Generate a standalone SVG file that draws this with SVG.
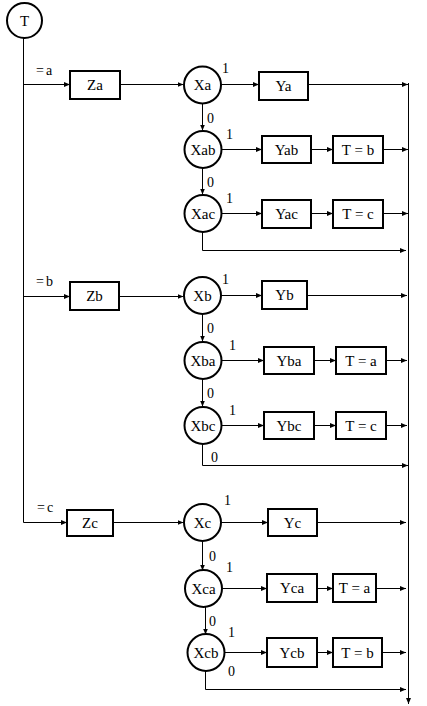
<svg xmlns="http://www.w3.org/2000/svg" width="427" height="706" viewBox="0 0 427 706">
<defs>
<marker id="ah" markerWidth="6" markerHeight="6" refX="6" refY="3" orient="auto" markerUnits="userSpaceOnUse">
<path d="M0,0.5 L6,3 L0,5.5 z" fill="#000"/>
</marker>
<style>
.n{fill:#fff;stroke:#000;stroke-width:2}
.t{font-family:"Liberation Serif","Times New Roman",serif;font-size:15px;fill:#000;text-anchor:middle;dominant-baseline:central}
.l{font-family:"Liberation Serif","Times New Roman",serif;font-size:14px;fill:#000}
.e{letter-spacing:2px}
.c{fill:none;stroke:#000;stroke-width:1}
.a{marker-end:url(#ah)}
</style>
</defs>
<rect width="427" height="706" fill="#fff"/>
<g id="connectors">
<path class="c" d="M23.5,38 V522.5"/>
<path class="c a" d="M23.5,84.5 H70"/>
<path class="c a" d="M23.5,296.5 H70"/>
<path class="c a" d="M23.5,522.5 H67"/>
<path class="c a" d="M408.5,83 V704"/>
<path class="c a" d="M120,84.5 H183.5"/>
<path class="c a" d="M220.5,84.5 H259"/>
<path class="c a" d="M308,84.5 H408"/>
<path class="c a" d="M202.5,104 V130.5"/>
<path class="c a" d="M221.5,149.5 H262"/>
<path class="c a" d="M311,149.5 H333"/>
<path class="c a" d="M383,149.5 H408"/>
<path class="c a" d="M202.5,168 V194.5"/>
<path class="c a" d="M221.5,213.5 H262"/>
<path class="c a" d="M311,213.5 H333"/>
<path class="c a" d="M383,213.5 H408"/>
<path class="c a" d="M202.5,232 V250.5 H406"/>
<path class="c a" d="M119,296.5 H183.5"/>
<path class="c a" d="M220.5,295.5 H262"/>
<path class="c a" d="M307,295.5 H407"/>
<path class="c a" d="M202.5,314 V341.5"/>
<path class="c a" d="M221.5,360.5 H264"/>
<path class="c a" d="M314,360.5 H336"/>
<path class="c a" d="M386,360.5 H407"/>
<path class="c a" d="M202.5,379 V406.5"/>
<path class="c a" d="M221.5,425.5 H264"/>
<path class="c a" d="M314,425.5 H336"/>
<path class="c a" d="M386,425.5 H407"/>
<path class="c a" d="M202.5,444 V465.5 H408"/>
<path class="c a" d="M113,522.5 H183.5"/>
<path class="c a" d="M220.5,522.5 H268"/>
<path class="c a" d="M317,522.5 H406"/>
<path class="c a" d="M202.5,541 V570.5"/>
<path class="c a" d="M221.5,588.5 H267"/>
<path class="c a" d="M317,588.5 H333"/>
<path class="c a" d="M376,588.5 H406"/>
<path class="c a" d="M205.5,607 V634.5"/>
<path class="c a" d="M224.5,652.5 H267"/>
<path class="c a" d="M317,652.5 H333"/>
<path class="c a" d="M382,652.5 H406"/>
<path class="c a" d="M205.5,671 V689.5 H406"/>
</g>
<g id="labels">
<text class="l e" x="36" y="75">=a</text>
<text class="l e" x="36" y="286">=b</text>
<text class="l e" x="37" y="512">=c</text>
<text class="l" x="222" y="73">1</text>
<text class="l" x="207" y="123">0</text>
<text class="l" x="226" y="139">1</text>
<text class="l" x="207" y="187">0</text>
<text class="l" x="226" y="203">1</text>
<text class="l" x="222" y="284">1</text>
<text class="l" x="207" y="333">0</text>
<text class="l" x="229" y="350">1</text>
<text class="l" x="207" y="398">0</text>
<text class="l" x="229" y="415">1</text>
<text class="l" x="211" y="462">0</text>
<text class="l" x="224" y="505">1</text>
<text class="l" x="209" y="561">0</text>
<text class="l" x="226" y="572">1</text>
<text class="l" x="209" y="626">0</text>
<text class="l" x="228" y="637">1</text>
<text class="l" x="228" y="676">0</text>
</g>
<g id="T"><circle class="n" cx="24.5" cy="20.5" r="17.5"/><text class="t" x="24.5" y="20.5">T</text></g>
<g id="Za"><rect class="n" x="70" y="71" width="50" height="28"/><text class="t" x="95" y="85">Za</text></g>
<g id="Xa"><circle class="n" cx="202.5" cy="85" r="18.5"/><text class="t" x="202.5" y="85">Xa</text></g>
<g id="Ya"><rect class="n" x="259" y="72" width="49" height="28"/><text class="t" x="283.5" y="86">Ya</text></g>
<g id="Xab"><circle class="n" cx="203" cy="149.5" r="18.5"/><text class="t" x="203" y="149.5">Xab</text></g>
<g id="Yab"><rect class="n" x="262" y="136" width="49" height="27"/><text class="t" x="286.5" y="149.5">Yab</text></g>
<g id="Tb1"><rect class="n" x="333" y="136" width="50" height="27"/><text class="t" x="358" y="149.5">T = b</text></g>
<g id="Xac"><circle class="n" cx="203" cy="213.5" r="18.5"/><text class="t" x="203" y="213.5">Xac</text></g>
<g id="Yac"><rect class="n" x="262" y="200" width="49" height="28"/><text class="t" x="286.5" y="214">Yac</text></g>
<g id="Tc1"><rect class="n" x="333" y="200" width="50" height="28"/><text class="t" x="358" y="214">T = c</text></g>
<g id="Zb"><rect class="n" x="70" y="282" width="49" height="28"/><text class="t" x="94.5" y="296">Zb</text></g>
<g id="Xb"><circle class="n" cx="202.5" cy="295.5" r="18.5"/><text class="t" x="202.5" y="295.5">Xb</text></g>
<g id="Yb"><rect class="n" x="262" y="281" width="45" height="28"/><text class="t" x="284.5" y="295">Yb</text></g>
<g id="Xba"><circle class="n" cx="203" cy="360.5" r="18.5"/><text class="t" x="203" y="360.5">Xba</text></g>
<g id="Yba"><rect class="n" x="264" y="347" width="50" height="27"/><text class="t" x="289" y="360.5">Yba</text></g>
<g id="Ta1"><rect class="n" x="336" y="347" width="50" height="27"/><text class="t" x="361" y="360.5">T = a</text></g>
<g id="Xbc"><circle class="n" cx="203" cy="425.5" r="18.5"/><text class="t" x="203" y="425.5">Xbc</text></g>
<g id="Ybc"><rect class="n" x="264" y="412" width="50" height="27"/><text class="t" x="289" y="425.5">Ybc</text></g>
<g id="Tc2"><rect class="n" x="336" y="412" width="50" height="27"/><text class="t" x="361" y="425.5">T = c</text></g>
<g id="Zc"><rect class="n" x="67" y="510" width="46" height="26"/><text class="t" x="90" y="523">Zc</text></g>
<g id="Xc"><circle class="n" cx="202.5" cy="522.5" r="18.5"/><text class="t" x="202.5" y="522.5">Xc</text></g>
<g id="Yc"><rect class="n" x="268" y="509" width="49" height="27"/><text class="t" x="292.5" y="522.5">Yc</text></g>
<g id="Xca"><circle class="n" cx="203.5" cy="588.5" r="18.5"/><text class="t" x="203.5" y="588.5">Xca</text></g>
<g id="Yca"><rect class="n" x="267" y="574" width="50" height="28"/><text class="t" x="292" y="588">Yca</text></g>
<g id="Ta2"><rect class="n" x="333" y="574" width="43" height="28"/><text class="t" x="354.5" y="588">T = a</text></g>
<g id="Xcb"><circle class="n" cx="206" cy="652.5" r="18.5"/><text class="t" x="206" y="652.5">Xcb</text></g>
<g id="Ycb"><rect class="n" x="267" y="638" width="50" height="29"/><text class="t" x="292" y="652.5">Ycb</text></g>
<g id="Tb2"><rect class="n" x="333" y="638" width="49" height="29"/><text class="t" x="357.5" y="652.5">T = b</text></g>
</svg>
